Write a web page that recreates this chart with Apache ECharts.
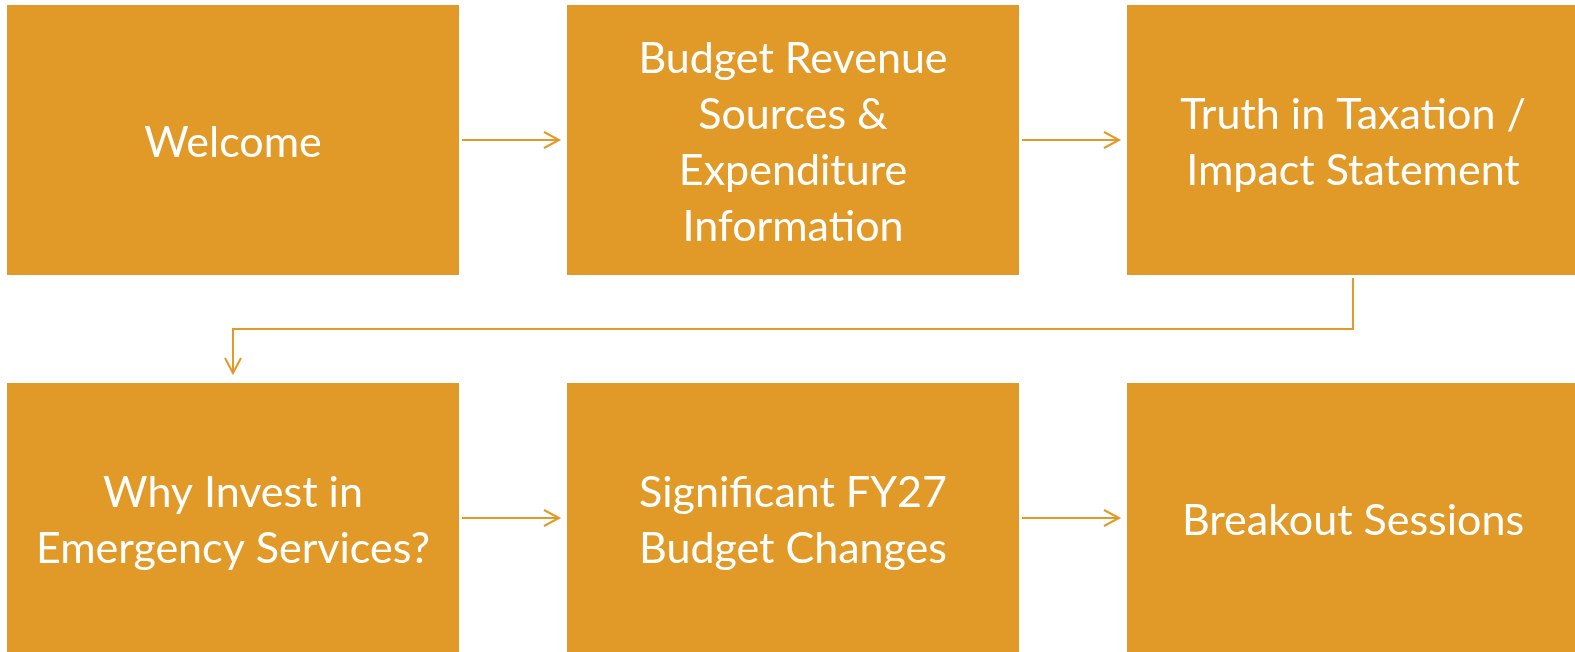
<!DOCTYPE html>
<html>
<head>
<meta charset="utf-8">
<script src="https://cdn.jsdelivr.net/npm/echarts@6/dist/echarts.min.js"></script>
<style>
  html, body { margin: 0; padding: 0; background: #fff; }
  #main { width: 1575px; height: 652px; }
</style>
</head>
<body>
<div id="main"></div>
<script>
// 流程步骤（按顺序）
var stepLabels = [
  'Welcome',
  'Budget Revenue\nSources &\nExpenditure\nInformation',
  'Truth in Taxation /\nImpact Statement',
  'Why Invest in\nEmergency Services?',
  'Significant FY27\nBudget Changes',
  'Breakout Sessions'
];
// 每个步骤所在的列和行
var stepCols = [0, 1, 2, 0, 1, 2];
var stepRows = [0, 0, 0, 1, 1, 1];

// 方块尺寸（以格子为单位）
var BOX_W = 452 / 560;
var BOX_H = 270 / 378;
var COLOR = '#E19A28';

function chart() {
  var myChart = echarts.init(document.getElementById('main'));
  window.addEventListener('resize', () => myChart.resize(), false);

  var boxData = stepLabels.map(function (name, i) {
    return [stepCols[i], stepRows[i], i];
  });

  // 箭头连线：相邻步骤之间
  var links = [];
  for (var i = 0; i < stepLabels.length - 1; i++) {
    links.push([i, i + 1]);
  }

  function boxRect(api, i) {
    var p0 = api.coord([stepCols[i], stepRows[i]]);
    var p1 = api.coord([stepCols[i] + BOX_W, stepRows[i] + BOX_H]);
    return { x: p0[0], y: p0[1], w: p1[0] - p0[0], h: p1[1] - p0[1] };
  }

  function chevron(tip, dir) {
    // dir: 'right' or 'down'
    var L = 15, H = 8;
    if (dir === 'right') {
      return [[tip[0] - L, tip[1] - H], tip, [tip[0] - L, tip[1] + H]];
    }
    return [[tip[0] - H, tip[1] - L], tip, [tip[0] + H, tip[1] - L]];
  }

  var option = {
    animation: false,
    grid: { left: 7, top: 5, width: 1680, height: 756, show: false, outerBoundsMode: 'none' },
    xAxis: { type: 'value', min: 0, max: 3, show: false },
    yAxis: { type: 'value', min: 0, max: 2, inverse: true, show: false },
    series: [
      {
        type: 'custom',
        coordinateSystem: 'cartesian2d',
        clip: false,
        data: boxData,
        encode: { x: 0, y: 1 },
        renderItem: function (params, api) {
          var i = api.value(2);
          var r = boxRect(api, i);
          return {
            type: 'group',
            children: [
              {
                type: 'rect',
                shape: { x: r.x, y: r.y, width: r.w, height: r.h },
                style: { fill: COLOR }
              },
              {
                type: 'text',
                x: r.x + r.w / 2,
                y: r.y + r.h / 2 + 3,
                style: {
                  text: stepLabels[i],
                  fill: '#fff',
                  font: '43px Lato',
                  lineHeight: 56,
                  align: 'center',
                  verticalAlign: 'middle'
                }
              }
            ]
          };
        }
      },
      {
        type: 'custom',
        coordinateSystem: 'cartesian2d',
        clip: false,
        data: links,
        encode: { x: 0, y: 1 },
        renderItem: function (params, api) {
          var a = links[params.dataIndex][0];
          var b = links[params.dataIndex][1];
          var ra = boxRect(api, a);
          var rb = boxRect(api, b);
          var pts, tip, dir;
          if (stepRows[a] === stepRows[b]) {
            var y = ra.y + ra.h / 2;
            tip = [rb.x - 8, y];
            pts = [[ra.x + ra.w + 3, y], tip];
            dir = 'right';
          } else {
            var xa = ra.x + ra.w / 2;
            var xb = rb.x + rb.w / 2;
            var ym = (ra.y + ra.h + rb.y) / 2;
            tip = [xb, rb.y - 10];
            pts = [[xa, ra.y + ra.h + 3], [xa, ym], [xb, ym], tip];
            dir = 'down';
          }
          var lineStyle = { stroke: COLOR, lineWidth: 2, fill: null };
          return {
            type: 'group',
            children: [
              { type: 'polyline', shape: { points: pts }, style: lineStyle },
              { type: 'polyline', shape: { points: chevron(tip, dir) }, style: lineStyle }
            ]
          };
        }
      }
    ]
  };
  myChart.setOption(option);
}

window.onload = function () {
  chart();
};
</script>
</body>
</html>
